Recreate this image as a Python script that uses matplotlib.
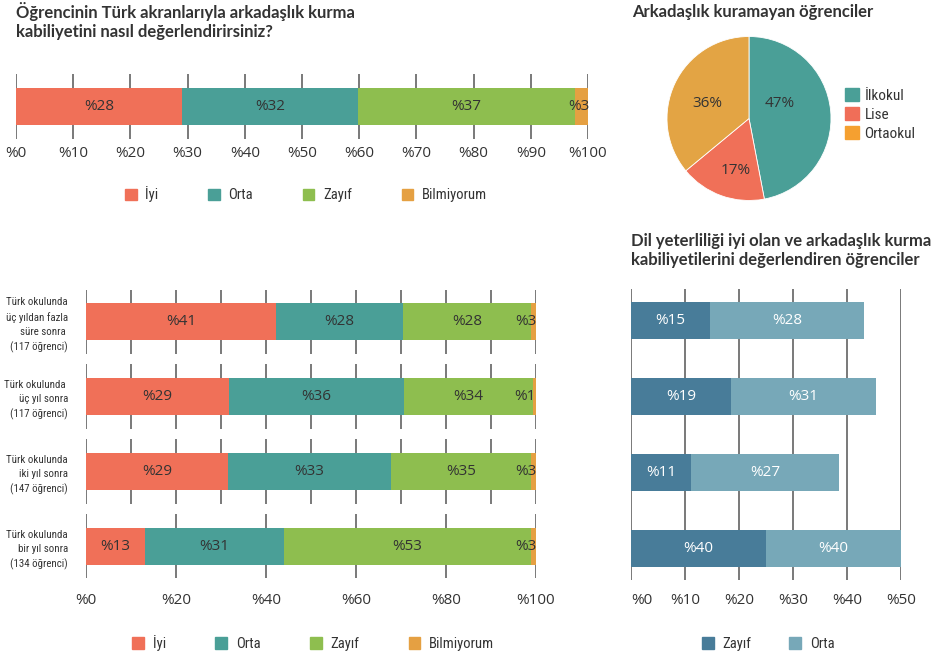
import numpy as np
import matplotlib.pyplot as plt
from matplotlib.patches import Patch

COND = ['Roboto Condensed', 'Noto Sans Condensed', 'Open Sans Condensed',
        'Noto Sans', 'DejaVu Sans']
plt.rcParams['font.family'] = COND
plt.rcParams['font.stretch'] = 'condensed'
TITLE_FONT = ['Lato', 'DejaVu Sans']
NUM = dict(family=['Open Sans', 'DejaVu Sans'], fontstretch='normal')

# --- data ---
cats = ['İyi', 'Orta', 'Zayıf', 'Bilmiyorum']
cat_colors = ['#F07058', '#4A9F97', '#8EBE4F', '#E5A042']

# overall answer (bar lengths as drawn, labels as printed)
overall_len = [29.0, 30.8, 38.0, 2.2]
overall_lbl = ['%28', '%32', '%37', '%3']

rows = ['Türk okulunda\nüç yıldan fazla\nsüre sonra \n(117 öğrenci)',
        'Türk okulunda \nüç yıl sonra\n(117 öğrenci)',
        'Türk okulunda\niki yıl sonra\n(147 öğrenci)',
        'Türk okulunda\nbir yıl sonra\n(134 öğrenci)']
iyi = [42.2, 31.8, 31.5, 13.1]
orta = [28.2, 38.9, 36.3, 30.8]
zayif = [28.5, 28.7, 31.1, 55.0]
bilm = [1.1, 0.6, 1.1, 1.1]
iyi_lbl = ['%41', '%29', '%29', '%13']
orta_lbl = ['%28', '%36', '%33', '%31']
zayif_lbl = ['%28', '%34', '%35', '%53']
bilm_lbl = ['%3', '%1', '%3', '%3']

# pie
schools = ['İlkokul', 'Lise', 'Ortaokul']
school_share = [47, 17, 36]
pie_colors = ['#4A9F97', '#F07058', '#E3A444']
pie_legend_colors = ['#4A9F97', '#F06E58', '#F5A030']

# language-proficient students
lang_cats = ['Zayıf', 'Orta']
lang_colors = ['#487C99', '#77A8B8']
lang_zayif = [14.6, 18.5, 11.1, 25.0]
lang_orta = [28.5, 26.9, 27.4, 25.0]
lang_zayif_lbl = ['%15', '%19', '%11', '%40']
lang_orta_lbl = ['%28', '%31', '%27', '%40']

TXT = '#333333'
GRID = '#555555'
W, H = 940, 658
BAR_FS = 11


def box(l, t, r, b):
    return [l / W, 1 - b / H, (r - l) / W, (b - t) / H]


def clean(ax):
    for s in ax.spines.values():
        s.set_visible(False)
    ax.tick_params(length=0, colors=TXT)


def legend(ax, colors, names, x, y, cs):
    ax.legend([Patch(color=c) for c in colors], names, ncol=len(names),
              frameon=False, loc='center', bbox_to_anchor=(x, y),
              fontsize=10.5, handlelength=0.8, handleheight=0.8,
              handletextpad=0.6, columnspacing=cs, labelcolor=TXT)


fig = plt.figure(figsize=(W / 100, H / 100), dpi=100)

# ---------------- top-left ----------------
ax1 = fig.add_axes(box(16, 74, 588, 139))
ax1.vlines(np.arange(0, 101, 10), 0, 1, color=GRID, lw=1.1, zorder=0)
left = 0
for v, l, c in zip(overall_len, overall_lbl, cat_colors):
    ax1.barh(0.5, v, left=left, height=0.57, color=c, zorder=2)
    if c == cat_colors[3]:
        ax1.text(left + v + 0.2, 0.5, l, ha='right', va='center', color=TXT,
                 fontsize=BAR_FS, zorder=3, **NUM)
    else:
        ax1.text(left + v / 2, 0.5, l, ha='center', va='center', color=TXT,
                 fontsize=BAR_FS, zorder=3, **NUM)
    left += v
ax1.set_xlim(0, 100)
ax1.set_ylim(0, 1)
ax1.set_yticks([])
ax1.set_xticks(np.arange(0, 101, 10))
ax1.set_xticklabels(['%' + str(x) for x in range(0, 101, 10)], fontsize=11,
                    **NUM)
ax1.tick_params(axis='x', pad=5)
clean(ax1)
legend(ax1, cat_colors, cats, 0.507, -0.85, 3.4)
fig.text(16 / W, 1 - 2 / H, 'Öğrencinin Türk akranlarıyla arkadaşlık kurma\n'
         'kabiliyetini nasıl değerlendirirsiniz?', ha='left', va='top',
         fontsize=12, fontweight='bold', family=TITLE_FONT, color=TXT,
         linespacing=1.2)

# ---------------- pie ----------------
ax2 = fig.add_axes(box(667, 36, 831, 201))
wedges, _, autot = ax2.pie(school_share, colors=pie_colors, startangle=90,
                           counterclock=False, autopct='%d%%', pctdistance=0.5,
                           wedgeprops=dict(linewidth=0.6, edgecolor='white'),
                           textprops=dict(color=TXT, fontsize=BAR_FS, **NUM))
# label spots inside the wedges, as in the original layout
for t, pos in zip(autot, [(0.37, 0.18), (-0.16, -0.63), (-0.51, 0.18)]):
    t.set_position(pos)
ax2.set_xlim(-1, 1)
ax2.set_ylim(-1, 1)
ax2.set_aspect('equal')
ax2.legend([Patch(color=c) for c in pie_legend_colors], schools, frameon=False,
           loc='center left', bbox_to_anchor=(1.0, 0.525), fontsize=11,
           handlelength=0.9, handleheight=0.9, handletextpad=0.4,
           labelspacing=0.3, labelcolor=TXT)
fig.text(632 / W, 1 - 4 / H, 'Arkadaşlık kuramayan öğrenciler', ha='left',
         va='top', fontsize=12, fontweight='bold', family=TITLE_FONT, color=TXT)

# ---------------- bottom-left ----------------
ypos = np.arange(len(rows))[::-1]
ax3 = fig.add_axes(box(86, 290, 536, 578))
for i, y in enumerate(ypos):
    xs = np.arange(0, 101, 10) if i < 3 else np.arange(0, 101, 20)
    ax3.vlines(xs, y - 0.43, y + 0.43, color=GRID, lw=1.1, zorder=0)
left = np.zeros(len(rows))
for vals, lbls, c in zip([iyi, orta, zayif, bilm],
                         [iyi_lbl, orta_lbl, zayif_lbl, bilm_lbl], cat_colors):
    ax3.barh(ypos, vals, left=left, height=0.49, color=c, zorder=2)
    for y, v, l, lf in zip(ypos, vals, lbls, left):
        if c == cat_colors[3]:
            ax3.text(lf + v, y, l, ha='right', va='center', color=TXT,
                     fontsize=BAR_FS, zorder=3, **NUM)
        else:
            ax3.text(lf + v / 2, y, l, ha='center', va='center', color=TXT,
                     fontsize=BAR_FS, zorder=3, **NUM)
    left += np.array(vals)
ax3.set_xlim(0, 100)
ax3.set_ylim(-0.42, 3.42)
ax3.set_yticks(ypos)
ax3.set_yticklabels(rows, fontsize=7.8, ha='right', linespacing=1.5)
ax3.tick_params(axis='y', pad=13)
ax3.set_xticks(np.arange(0, 101, 20))
ax3.set_xticklabels(['%' + str(x) for x in range(0, 101, 20)], fontsize=11,
                    **NUM)
ax3.tick_params(axis='x', pad=11)
clean(ax3)
legend(ax3, cat_colors, cats, 0.505, -0.226, 3.4)

# ---------------- bottom-right ----------------
ax4 = fig.add_axes(box(631, 289, 901, 580))
ax4.vlines(np.arange(0, 51, 10), -0.42, 3.42, color=GRID, lw=1.1, zorder=0)
ax4.barh(ypos, lang_zayif, height=0.49, color=lang_colors[0], zorder=2)
ax4.barh(ypos, lang_orta, left=lang_zayif, height=0.49, color=lang_colors[1],
         zorder=2)
for y, z, o, zl, ol in zip(ypos, lang_zayif, lang_orta, lang_zayif_lbl,
                           lang_orta_lbl):
    ax4.text(z / 2, y, zl, ha='center', va='center', color='white',
             fontsize=BAR_FS, zorder=3, **NUM)
    ax4.text(z + o / 2, y, ol, ha='center', va='center', color='white',
             fontsize=BAR_FS, zorder=3, **NUM)
ax4.set_xlim(0, 50)
ax4.set_ylim(-0.42, 3.42)
ax4.set_yticks([])
ax4.set_xticks(np.arange(0, 51, 10))
ax4.set_xticklabels(['%' + str(x) for x in range(0, 51, 10)], fontsize=11,
                    **NUM)
ax4.get_xticklabels()[0].set_ha('left')
ax4.tick_params(axis='x', pad=9)
clean(ax4)
legend(ax4, lang_colors, lang_cats, 0.508, -0.22, 2.6)
fig.text(631 / W, 1 - 233 / H, 'Dil yeterliliği iyi olan ve arkadaşlık kurma\n'
         'kabiliyetilerini değerlendiren öğrenciler', ha='left', va='top',
         fontsize=12, fontweight='bold', family=TITLE_FONT, color=TXT,
         linespacing=1.2)

fig.savefig('out.png', dpi=100)
